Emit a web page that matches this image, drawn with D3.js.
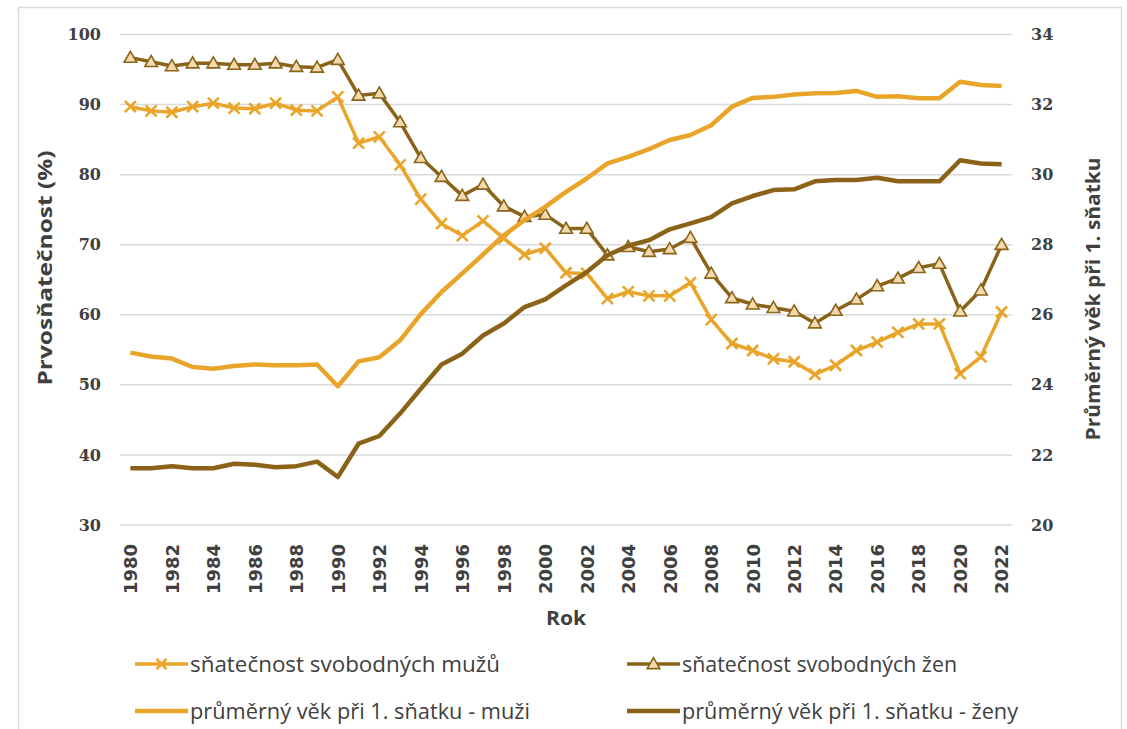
<!DOCTYPE html>
<html>
<head>
<meta charset="utf-8">
<script src="https://cdn.jsdelivr.net/npm/d3@7"></script>
<style>
  body { margin: 0; background: #fff; }
  svg { display: block; }
</style>
</head>
<body>
<div id="chart"></div>
<script>
// Years 1980-2022
const years = d3.range(1980, 2023);

// Prvosňatečnost (%) - left axis
const rateMen = [89.7, 89.1, 88.9, 89.7, 90.2, 89.5, 89.4, 90.2, 89.2, 89.1,
  91.1, 84.5, 85.4, 81.4, 76.5, 73.0, 71.3, 73.4, 70.9, 68.6,
  69.5, 66.0, 65.9, 62.3, 63.3, 62.7, 62.7, 64.6, 59.3, 55.9,
  54.9, 53.7, 53.3, 51.5, 52.8, 54.9, 56.1, 57.5, 58.7, 58.7,
  51.6, 54.0, 60.4];
const rateWomen = [96.7, 96.1, 95.5, 95.9, 95.9, 95.7, 95.7, 95.9, 95.4, 95.3,
  96.4, 91.3, 91.6, 87.5, 82.4, 79.7, 77.0, 78.6, 75.5, 74.0,
  74.3, 72.3, 72.3, 68.5, 69.7, 69.0, 69.4, 71.0, 65.9, 62.4,
  61.5, 61.0, 60.5, 58.8, 60.6, 62.2, 64.1, 65.2, 66.7, 67.3,
  60.5, 63.5, 70.0];

// Průměrný věk při 1. sňatku - right axis
const ageMen = [24.92, 24.81, 24.75, 24.51, 24.46, 24.54, 24.58, 24.56, 24.56, 24.58,
  23.96, 24.67, 24.79, 25.27, 26.02, 26.65, 27.18, 27.72, 28.27, 28.70,
  29.08, 29.51, 29.89, 30.32, 30.51, 30.73, 30.99, 31.13, 31.41, 31.94,
  32.19, 32.22, 32.29, 32.32, 32.33, 32.39, 32.22, 32.24, 32.18, 32.18,
  32.65, 32.56, 32.53];
const ageWomen = [21.62, 21.62, 21.68, 21.62, 21.62, 21.75, 21.72, 21.65, 21.68, 21.81,
  21.37, 22.32, 22.54, 23.18, 23.89, 24.58, 24.89, 25.41, 25.75, 26.22,
  26.44, 26.84, 27.22, 27.70, 27.97, 28.13, 28.44, 28.61, 28.79, 29.18,
  29.39, 29.56, 29.58, 29.81, 29.85, 29.85, 29.91, 29.81, 29.81, 29.81,
  30.41, 30.32, 30.30];

const leftTicks = [30, 40, 50, 60, 70, 80, 90, 100];
const rightTicks = [20, 22, 24, 26, 28, 30, 32, 34];
const xTickYears = years.filter(y => y % 2 === 0);

const legendLabels = [
  'sňatečnost svobodných mužů',
  'sňatečnost svobodných žen',
  'průměrný věk při 1. sňatku - muži',
  'průměrný věk při 1. sňatku - ženy'
];

const orange = '#E9A52A';
const brown = '#8B6318';
const triFill = '#F3DAAE';
const textCol = '#404040';
const gridCol = '#D9D9D9';

const width = 1127, height = 729;
const svg = d3.select('#chart').append('svg')
  .attr('width', width)
  .attr('height', height);

// outer chart border
svg.append('rect')
  .attr('x', 18.5).attr('y', 7.5)
  .attr('width', 1103).attr('height', 740)
  .attr('fill', 'none')
  .attr('stroke', gridCol)
  .attr('stroke-width', 1.5);

const x = d3.scalePoint()
  .domain(years)
  .range([120, 1012])
  .padding(0.5);

const yL = d3.scaleLinear().domain([30, 100]).range([525, 34.5]);
const yR = d3.scaleLinear().domain([20, 34]).range([525, 34.5]);

// gridlines
svg.append('g')
  .selectAll('line')
  .data(leftTicks)
  .enter().append('line')
  .attr('x1', 120).attr('x2', 1012)
  .attr('y1', d => yL(d)).attr('y2', d => yL(d))
  .attr('stroke', gridCol)
  .attr('stroke-width', 1.5);

// left axis
const leftAxis = svg.append('g')
  .attr('transform', 'translate(101,0)')
  .call(d3.axisLeft(yL).tickValues(leftTicks).tickSize(0).tickPadding(0));
leftAxis.select('.domain').remove();
leftAxis.selectAll('text')
  .attr('fill', textCol)
  .style('font-family', '"DejaVu Serif", serif')
  .style('font-weight', 'bold')
  .style('font-size', '16px');

// right axis
const rightAxis = svg.append('g')
  .attr('transform', 'translate(1031,0)')
  .call(d3.axisRight(yR).tickValues(rightTicks).tickSize(0).tickPadding(0));
rightAxis.select('.domain').remove();
rightAxis.selectAll('text')
  .attr('fill', textCol)
  .style('font-family', '"DejaVu Serif", serif')
  .style('font-weight', 'bold')
  .style('font-size', '16px');

// x axis
const xAxis = svg.append('g')
  .attr('transform', 'translate(0,543)')
  .call(d3.axisBottom(x).tickValues(xTickYears).tickSize(0).tickPadding(0));
xAxis.select('.domain').remove();
xAxis.selectAll('text')
  .attr('fill', textCol)
  .attr('transform', 'rotate(-90)')
  .attr('text-anchor', 'end')
  .attr('dy', '0.35em')
  .attr('x', -1)
  .attr('y', 0)
  .style('font-family', '"DejaVu Sans", sans-serif')
  .style('font-weight', 'bold')
  .style('font-size', '18px');

// axis titles
const condensed = '"Liberation Sans Narrow", "Open Sans", sans-serif';
svg.append('text')
  .attr('transform', 'translate(52,268) rotate(-90)')
  .attr('text-anchor', 'middle')
  .attr('fill', textCol)
  .style('font-family', condensed)
  .style('font-weight', 'bold')
  .style('font-size', '20px')
  .attr('textLength', 235)
  .attr('lengthAdjust', 'spacingAndGlyphs')
  .text('Prvosňatečnost (%)');

svg.append('text')
  .attr('transform', 'translate(1100,299) rotate(-90)')
  .attr('text-anchor', 'middle')
  .attr('fill', textCol)
  .style('font-family', condensed)
  .style('font-weight', 'bold')
  .style('font-size', '20px')
  .attr('textLength', 283)
  .attr('lengthAdjust', 'spacingAndGlyphs')
  .text('Průměrný věk při 1. sňatku');

svg.append('text')
  .attr('x', 566).attr('y', 625)
  .attr('text-anchor', 'middle')
  .attr('fill', textCol)
  .style('font-family', condensed)
  .style('font-weight', 'bold')
  .style('font-size', '20px')
  .attr('textLength', 40)
  .attr('lengthAdjust', 'spacingAndGlyphs')
  .text('Rok');

// series
const lineL = d3.line().x((d, i) => x(years[i])).y(d => yL(d));
const lineR = d3.line().x((d, i) => x(years[i])).y(d => yR(d));

const xMark = s => `M${-s},${-s}L${s},${s}M${-s},${s}L${s},${-s}`;
const triMark = d3.symbol().type(d3.symbolTriangle).size(70);

// male marriage rate
svg.append('path')
  .attr('d', lineL(rateMen))
  .attr('fill', 'none')
  .attr('stroke', orange)
  .attr('stroke-width', 3.5)
  .attr('stroke-linejoin', 'round');
svg.append('g')
  .selectAll('path')
  .data(rateMen)
  .enter().append('path')
  .attr('transform', (d, i) => `translate(${x(years[i])},${yL(d)})`)
  .attr('d', xMark(5.5))
  .attr('stroke', orange)
  .attr('stroke-width', 2.6)
  .attr('fill', 'none');

// female marriage rate
svg.append('path')
  .attr('d', lineL(rateWomen))
  .attr('fill', 'none')
  .attr('stroke', brown)
  .attr('stroke-width', 3.5)
  .attr('stroke-linejoin', 'round');
svg.append('g')
  .selectAll('path')
  .data(rateWomen)
  .enter().append('path')
  .attr('transform', (d, i) => `translate(${x(years[i])},${yL(d) + 1})`)
  .attr('d', triMark())
  .attr('fill', triFill)
  .attr('stroke', brown)
  .attr('stroke-width', 1.6);

// average age lines (secondary axis)
svg.append('path')
  .attr('d', lineR(ageMen))
  .attr('fill', 'none')
  .attr('stroke', orange)
  .attr('stroke-width', 4.5)
  .attr('stroke-linejoin', 'round');
svg.append('path')
  .attr('d', lineR(ageWomen))
  .attr('fill', 'none')
  .attr('stroke', brown)
  .attr('stroke-width', 4.5)
  .attr('stroke-linejoin', 'round');

// legend
const legendItems = [
  { label: legendLabels[0], color: orange, marker: 'x', lx: 135, ly: 664, tl: 310, sw: 3.5 },
  { label: legendLabels[1], color: brown, marker: 'tri', lx: 627, ly: 664, tl: 275, sw: 3.5 },
  { label: legendLabels[2], color: orange, marker: null, lx: 135, ly: 711, tl: 340, sw: 4.5 },
  { label: legendLabels[3], color: brown, marker: null, lx: 627, ly: 711, tl: 336, sw: 4.5 }
];

const leg = svg.append('g');
legendItems.forEach(it => {
  leg.append('line')
    .attr('x1', it.lx).attr('x2', it.lx + 53)
    .attr('y1', it.ly).attr('y2', it.ly)
    .attr('stroke', it.color)
    .attr('stroke-width', it.sw);
  if (it.marker === 'x') {
    leg.append('path')
      .attr('transform', `translate(${it.lx + 26.5},${it.ly})`)
      .attr('d', xMark(5))
      .attr('stroke', it.color)
      .attr('stroke-width', 2.6);
  } else if (it.marker === 'tri') {
    leg.append('path')
      .attr('transform', `translate(${it.lx + 26.5},${it.ly + 1})`)
      .attr('d', triMark())
      .attr('fill', triFill)
      .attr('stroke', it.color)
      .attr('stroke-width', 1.6);
  }
  leg.append('text')
    .attr('x', it.lx + 55)
    .attr('y', it.ly + 8)
    .attr('fill', textCol)
    .style('font-family', condensed)
    .style('font-size', '21px')
    .attr('textLength', it.tl)
    .attr('lengthAdjust', 'spacingAndGlyphs')
    .text(it.label);
});
</script>
</body>
</html>
